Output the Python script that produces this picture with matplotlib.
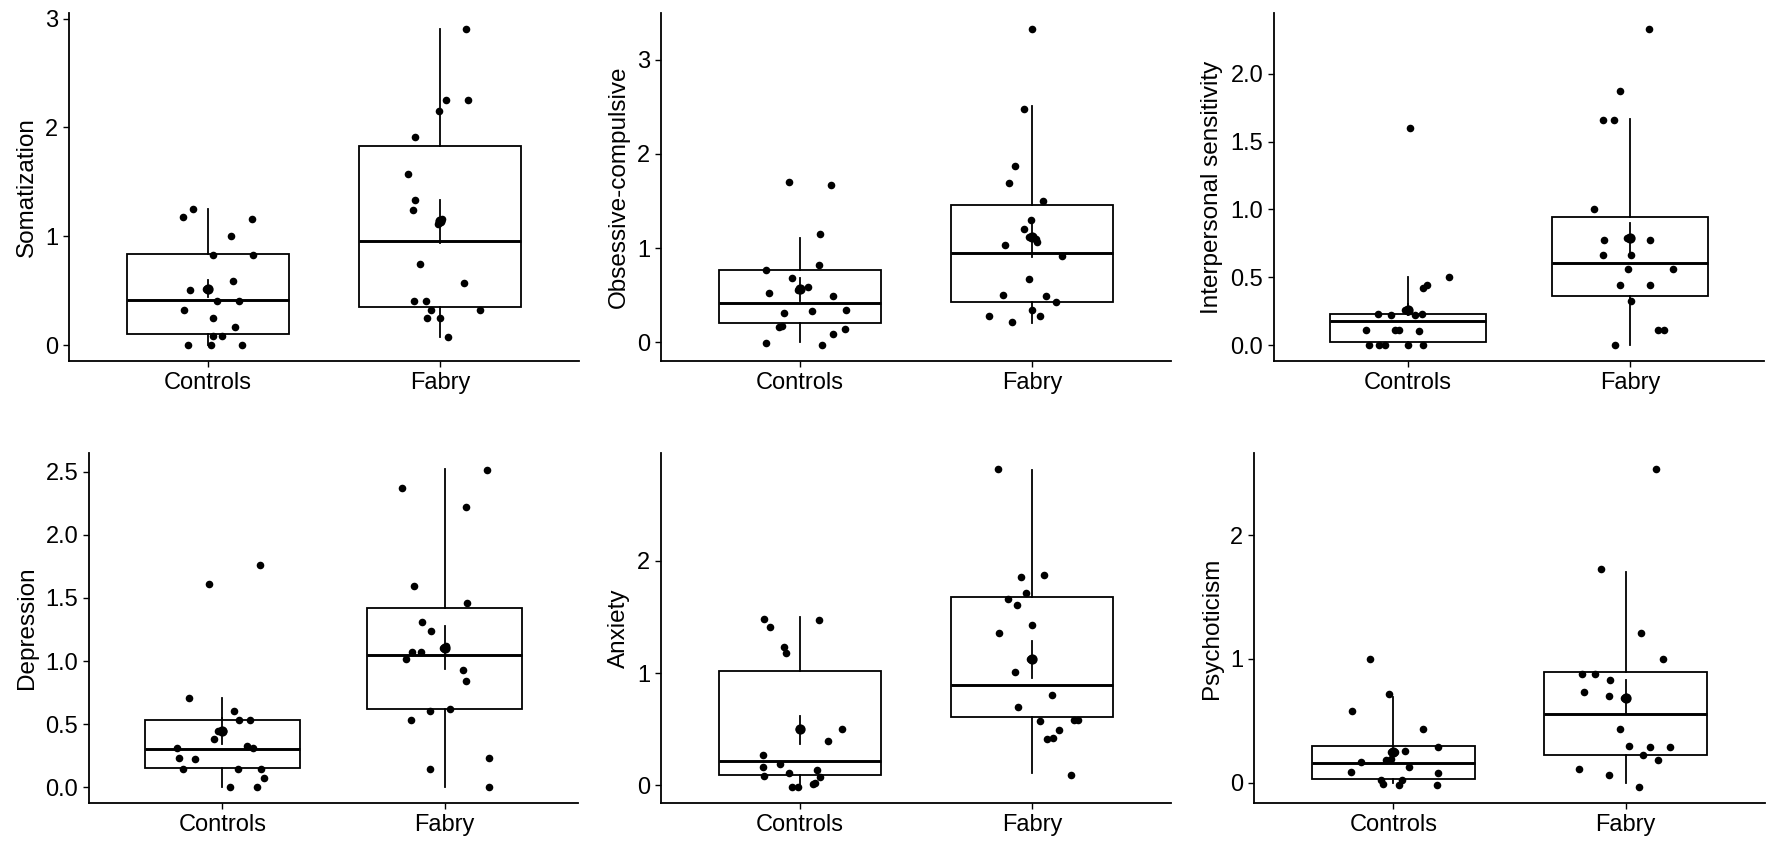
import matplotlib
matplotlib.use("Agg")
import matplotlib.pyplot as plt
import numpy as np

plt.rcParams['font.family'] = ['Liberation Sans', 'DejaVu Sans']

groups = ["Controls", "Fabry"]

# ---------------- Somatization ----------------
som_ctrl_dx = [-0.066, -0.108, 0.188, 0.100, 0.022, 0.194, 0.108, -0.080, -0.008, 0.040,
               0.134, -0.106, 0.022, 0.114, 0.022, 0.060, -0.086, 0.014, 0.148]
som_ctrl_y = [1.247, 1.173, 1.158, 1.002, 0.831, 0.831, 0.593, 0.507, 0.513, 0.406,
              0.406, 0.321, 0.254, 0.168, 0.086, 0.086, 0.0, 0.0, 0.0]
som_fab_dx = [0.112, 0.026, 0.122, -0.005, -0.106, -0.138, -0.106, -0.118, 0.011, -0.008,
              -0.086, 0.102, -0.112, -0.060, -0.038, 0.174, -0.054, 0.002, 0.035]
som_fab_y = [2.906, 2.252, 2.252, 2.154, 1.913, 1.570, 1.329, 1.243, 1.158, 1.112,
             0.745, 0.574, 0.406, 0.406, 0.321, 0.321, 0.254, 0.254, 0.079]
som_box = [[0.0, 0.100, 0.415, 0.834, 1.247], [0.079, 0.351, 0.957, 1.827, 2.906]]
som_mean = [0.52, 1.143]
som_err = [[0.44, 0.60], [0.935, 1.332]]
som_ticks = [0, 1, 2, 3]
som_ticklabels = ["0", "1", "2", "3"]

# ---------------- Obsessive-compulsive ----------------
oc_ctrl_dx = [-0.048, 0.132, 0.086, 0.080, -0.147, -0.035, -0.134, 0.032, -0.008, 0.140,
              -0.069, 0.053, 0.199, -0.093, -0.080, 0.193, 0.140, -0.147, 0.093]
oc_ctrl_y = [1.705, 1.670, 1.148, 0.819, 0.770, 0.678, 0.526, 0.589, 0.558, 0.494,
             0.311, 0.328, 0.342, 0.162, 0.176, 0.145, 0.085, -0.014, -0.032]
oc_fab_dx = [0.0, -0.032, -0.072, -0.099, 0.048, -0.006, -0.032, -0.013, 0.016, 0.022,
             -0.118, 0.128, -0.013, -0.124, 0.062, 0.102, 0.0, -0.187, 0.035, -0.086]
oc_fab_y = [3.329, 2.476, 1.873, 1.690, 1.497, 1.295, 1.200, 1.115, 1.094, 1.062,
            1.031, 0.918, 0.671, 0.505, 0.494, 0.427, 0.342, 0.282, 0.282, 0.212]
oc_box = [[0.0, 0.201, 0.420, 0.771, 1.105], [0.205, 0.427, 0.950, 1.458, 2.513]]
oc_mean = [0.565, 1.115]
oc_err = [[0.434, 0.678], [0.90, 1.29]]
oc_ticks = [0, 1, 2, 3]
oc_ticklabels = ["0", "1", "2", "3"]

# ---------------- Interpersonal sensitivity ----------------
is_ctrl_dx = [0.009, 0.184, 0.086, 0.070, -0.132, -0.075, -0.012, 0.0, 0.031, 0.063,
              -0.185, -0.055, -0.038, 0.051, -0.172, -0.127, -0.103, 0.002, 0.070]
is_ctrl_y = [1.601, 0.499, 0.443, 0.419, 0.233, 0.223, 0.262, 0.250, 0.223, 0.233,
             0.113, 0.113, 0.113, 0.103, 0.0, 0.0, 0.0, 0.0, 0.0]
is_fab_dx = [0.084, -0.046, -0.123, -0.075, -0.165, -0.117, -0.017, 0.0, 0.086, -0.123,
             0.002, -0.012, 0.190, -0.046, 0.086, 0.002, 0.125, 0.153, -0.067]
is_fab_y = [2.330, 1.873, 1.657, 1.657, 1.0, 0.774, 0.793, 0.793, 0.774, 0.661,
            0.661, 0.561, 0.561, 0.441, 0.441, 0.328, 0.113, 0.113, 0.0]
is_box = [[0.0, 0.024, 0.176, 0.228, 0.502], [0.0, 0.365, 0.607, 0.945, 1.665]]
is_mean = [0.262, 0.793]
is_err = [[0.225, 0.30], [0.68, 0.90]]
is_ticks = [0.0, 0.5, 1.0, 1.5, 2.0]
is_ticklabels = ["0.0", "0.5", "1.0", "1.5", "2.0"]

# ---------------- Depression ----------------
dep_ctrl_dx = [-0.061, 0.170, -0.149, 0.053, 0.076, 0.125, -0.019, 0.002, -0.037, -0.202,
               0.110, 0.138, -0.197, -0.121, -0.178, 0.070, 0.175, 0.188, 0.034, 0.154]
dep_ctrl_y = [1.611, 1.759, 0.707, 0.605, 0.531, 0.531, 0.448, 0.448, 0.381, 0.307,
              0.325, 0.307, 0.232, 0.221, 0.147, 0.147, 0.147, 0.072, 0.0, 0.0]
dep_fab_dx = [0.191, -0.194, 0.094, -0.138, 0.099, -0.104, -0.060, -0.146, -0.108, -0.173,
              -0.008, 0.008, 0.081, 0.094, -0.066, 0.026, -0.152, -0.065, 0.201, 0.201]
dep_fab_y = [2.519, 2.370, 2.225, 1.598, 1.459, 1.312, 1.235, 1.075, 1.075, 1.013,
             1.107, 1.120, 0.928, 0.843, 0.603, 0.619, 0.531, 0.147, 0.229, 0.0]
dep_box = [[0.0, 0.149, 0.301, 0.531, 0.709], [0.0, 0.621, 1.045, 1.421, 2.524]]
dep_mean = [0.448, 1.107]
dep_err = [[0.341, 0.55], [0.939, 1.275]]
dep_ticks = [0.0, 0.5, 1.0, 1.5, 2.0, 2.5]
dep_ticklabels = ["0.0", "0.5", "1.0", "1.5", "2.0", "2.5"]

# ---------------- Anxiety ----------------
anx_ctrl_dx = [-0.155, -0.128, 0.080, -0.069, -0.059, -0.003, 0.180, 0.120, -0.161, -0.088,
               -0.161, -0.155, -0.048, 0.073, 0.088, 0.065, 0.056, -0.035, -0.008]
anx_ctrl_y = [1.485, 1.413, 1.473, 1.237, 1.177, 0.504, 0.507, 0.398, 0.274, 0.192,
              0.165, 0.083, 0.112, 0.139, 0.071, 0.024, 0.012, -0.015, -0.015]
anx_fab_dx = [-0.145, -0.046, 0.054, -0.026, -0.105, -0.065, 0.0, -0.140, -0.010, -0.072,
              0.088, -0.059, 0.033, 0.183, 0.198, 0.115, 0.067, 0.091, 0.167]
anx_fab_y = [2.820, 1.856, 1.871, 1.710, 1.665, 1.608, 1.425, 1.356, 1.127, 1.012,
             0.808, 0.699, 0.572, 0.587, 0.587, 0.493, 0.410, 0.419, 0.097]
anx_box = [[0.0, 0.097, 0.215, 1.018, 1.503], [0.109, 0.608, 0.897, 1.677, 2.811]]
anx_mean = [0.504, 1.127]
anx_err = [[0.366, 0.622], [0.956, 1.289]]
anx_ticks = [0, 1, 2]
anx_ticklabels = ["0", "1", "2"]

# ---------------- Psychoticism ----------------
psy_ctrl_dx = [-0.099, -0.018, -0.178, 0.128, 0.194, 0.048, -0.012, 0.007, -0.138, -0.031,
               -0.012, 0.067, -0.184, 0.194, -0.053, 0.038, -0.044, 0.026, 0.189]
psy_ctrl_y = [1.0, 0.718, 0.582, 0.434, 0.287, 0.258, 0.245, 0.245, 0.162, 0.178,
              0.191, 0.125, 0.088, 0.074, 0.019, 0.019, -0.013, -0.024, -0.024]
psy_fab_dx = [0.132, -0.107, 0.067, 0.160, -0.186, -0.133, -0.066, -0.179, -0.072, -0.007,
              0.003, -0.025, 0.013, 0.107, 0.192, 0.074, 0.140, -0.201, -0.072, 0.059]
psy_fab_y = [2.535, 1.724, 1.210, 1.0, 0.880, 0.880, 0.827, 0.731, 0.702, 0.684,
             0.689, 0.434, 0.295, 0.287, 0.287, 0.221, 0.184, 0.112, 0.064, -0.037]
psy_box = [[0.0, 0.027, 0.157, 0.298, 0.694], [0.0, 0.226, 0.553, 0.894, 1.702]]
psy_mean = [0.245, 0.684]
psy_err = [[0.20, 0.28], [0.55, 0.83]]
psy_ticks = [0, 1, 2]
psy_ticklabels = ["0", "1", "2"]

panels = [
    ("Somatization", som_ctrl_dx, som_ctrl_y, som_fab_dx, som_fab_y, som_box, som_mean, som_err, som_ticks, som_ticklabels),
    ("Obsessive-compulsive", oc_ctrl_dx, oc_ctrl_y, oc_fab_dx, oc_fab_y, oc_box, oc_mean, oc_err, oc_ticks, oc_ticklabels),
    ("Interpersonal sensitivity", is_ctrl_dx, is_ctrl_y, is_fab_dx, is_fab_y, is_box, is_mean, is_err, is_ticks, is_ticklabels),
    ("Depression", dep_ctrl_dx, dep_ctrl_y, dep_fab_dx, dep_fab_y, dep_box, dep_mean, dep_err, dep_ticks, dep_ticklabels),
    ("Anxiety", anx_ctrl_dx, anx_ctrl_y, anx_fab_dx, anx_fab_y, anx_box, anx_mean, anx_err, anx_ticks, anx_ticklabels),
    ("Psychoticism", psy_ctrl_dx, psy_ctrl_y, psy_fab_dx, psy_fab_y, psy_box, psy_mean, psy_err, psy_ticks, psy_ticklabels),
]

W, H = 1772, 842
# axes rectangles in pixels: left, right, top, bottom
rects = [
    (69, 579, 13, 361), (661, 1171, 13, 361), (1274, 1764, 13, 361),
    (89, 578, 453, 803), (661, 1171, 453, 803), (1254, 1765, 453, 803),
]

fig = plt.figure(figsize=(W / 100, H / 100), dpi=100)
FS_TICK = 17
FS_TITLE = 17.5
LW = 1.3

for (title, cdx, cy, fdx, fy, box, mean, err, ticks, tlabels), (l, r, t, b) in zip(panels, rects):
    ax = fig.add_axes([l / W, 1 - b / H, (r - l) / W, (b - t) / H])
    stats = []
    for g, s in zip(groups, box):
        stats.append(dict(whislo=s[0], q1=s[1], med=s[2], q3=s[3], whishi=s[4], fliers=[], label=g))
    ax.bxp(stats, positions=[1, 2], widths=0.7, showcaps=False, showfliers=False,
           patch_artist=True,
           boxprops=dict(facecolor='white', edgecolor='black', linewidth=LW),
           whiskerprops=dict(color='black', linewidth=LW),
           medianprops=dict(color='black', linewidth=2.1),
           zorder=1)
    xs = np.concatenate([1 + np.array(cdx), 2 + np.array(fdx)])
    ys = np.concatenate([np.array(cy), np.array(fy)])
    ax.scatter(xs, ys, s=30, color='black', linewidths=0, zorder=3)
    for i, (m, e) in enumerate(zip(mean, err)):
        ax.plot([i + 1, i + 1], e, color='black', linewidth=LW, zorder=4)
    ax.scatter([1, 2], mean, s=55, color='black', linewidths=0, zorder=4)

    allv = np.concatenate([ys, np.array(box).ravel(), np.array(err).ravel()])
    lo, hi = allv.min(), allv.max()
    pad = 0.05 * (hi - lo)
    ax.set_ylim(lo - pad, hi + pad)
    ax.set_xlim(0.4, 2.6)
    ax.set_yticks(ticks)
    ax.set_yticklabels(tlabels)
    ax.set_xticks([1, 2])
    ax.set_xticklabels(groups)
    ax.set_ylabel(title, fontsize=FS_TITLE, color='black', labelpad=5)
    ax.tick_params(axis='both', labelsize=FS_TICK, colors='black', length=4.3, width=1.0,
                   direction='out', pad=3.5)
    for sp in ['top', 'right']:
        ax.spines[sp].set_visible(False)
    for sp in ['left', 'bottom']:
        ax.spines[sp].set_linewidth(LW)
        ax.spines[sp].set_color('black')

fig.savefig("out.png", dpi=100, facecolor='white')
